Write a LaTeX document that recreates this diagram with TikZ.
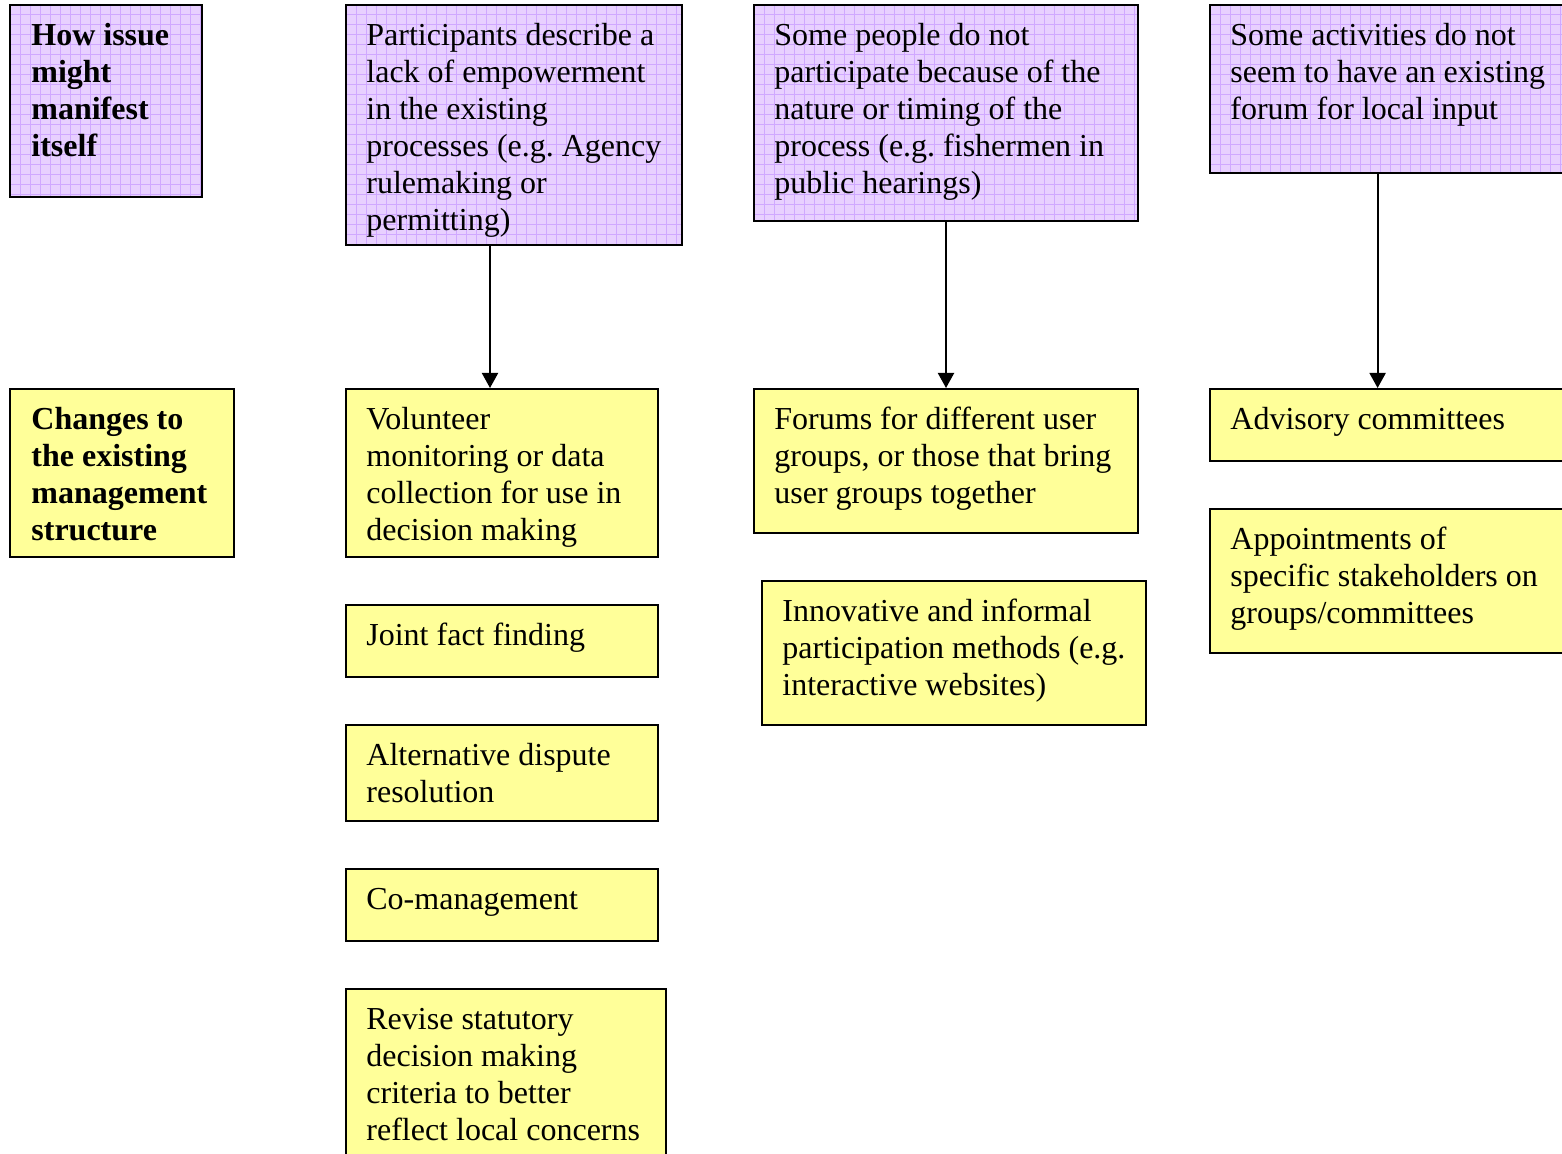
\documentclass[tikz,border=0pt]{standalone}
\usepackage{fontspec}
\setmainfont{Liberation Serif}
\usetikzlibrary{arrows.meta,fit}
\definecolor{boxyellow}{RGB}{255,255,153}
\definecolor{boxpurple}{RGB}{232,208,255}
\definecolor{gridpurple}{RGB}{208,168,255}
\frenchspacing
\newcommand\ybox[5]{%
  \node[ybox, fit={(#2,#3) (#4,#5)}] (#1) {};}
\newcommand\pbox[5]{%
  \node[pfill, fit={(#2,#3) (#4,#5)}] (#1) {};
  \begin{scope}
    \clip (#1.north west) rectangle (#1.south east);
    \foreach \k in {1,...,40}{\draw[gridl] ({#2+10*\k},#3) -- ({#2+10*\k},#5);}
    \foreach \k in {1,...,25}{\draw[gridl] (#2,{#3+10*\k}) -- (#4,{#3+10*\k});}
  \end{scope}
  \draw[line width=1pt] (#1.north west) rectangle (#1.south east);}
\begin{document}
\begin{tikzpicture}[x=0.5pt,y=-0.5pt,
  ybox/.style={draw=black, line width=1pt, fill=boxyellow, inner sep=0pt},
  pfill/.style={fill=boxpurple, inner sep=0pt},
  gridl/.style={draw=gridpurple, line width=0.5pt},
  txt/.style={anchor=north west, inner sep=0pt, align=left, font=\fontsize{16}{18.5}\selectfont\frenchspacing},
  btxt/.style={txt, font=\fontsize{16}{18.5}\selectfont\bfseries},
  arr/.style={line width=1pt, -{Triangle[width=8pt,length=7.5pt]}}]
\clip (0,0) rectangle (1562,1154);
\fill[white] (0,0) rectangle (1562,1154);

% purple issue boxes
\pbox{hdr}{10}{5}{202}{197}
\pbox{p1}{346}{5}{682}{245}
\pbox{p2}{754}{5}{1138}{221}
\pbox{p3}{1210}{5}{1580}{173}

% yellow boxes
\ybox{chg}{10}{389}{234}{557}
\ybox{y1}{346}{389}{658}{557}
\ybox{y2}{346}{605}{658}{677}
\ybox{y3}{346}{725}{658}{821}
\ybox{y4}{346}{869}{658}{941}
\ybox{y5}{346}{989}{666}{1170}
\ybox{f1}{754}{389}{1138}{533}
\ybox{f2}{762}{581}{1146}{725}
\ybox{a1}{1210}{389}{1580}{461}
\ybox{a2}{1210}{509}{1580}{653}

% texts
\node[btxt] (thdr) at (31,19) {\strut How issue\\might\\manifest\\itself};
\node[txt] (tp1) at (366,19) {\strut Participants describe a\\lack of empowerment\\in the existing\\processes (e.g. Agency\\rulemaking or\\permitting)};
\node[txt] (tp2) at (774,19) {\strut Some people do not\\participate because of the\\nature or timing of the\\process (e.g. fishermen in\\public hearings)};
\node[txt] (tp3) at (1230,19) {\strut Some activities do not\\seem to have an existing\\forum for local input};

\node[btxt] (tchg) at (31,403) {\strut Changes to\\the existing\\management\\structure};
\node[txt] (ty1) at (366,403) {\strut Volunteer\\monitoring or data\\collection for use in\\decision making};
\node[txt] (ty2) at (366,619) {\strut Joint fact finding};
\node[txt] (ty3) at (366,739) {\strut Alternative dispute\\resolution};
\node[txt] (ty4) at (366,883) {\strut Co-management};
\node[txt] (ty5) at (366,1003) {\strut Revise statutory\\decision making\\criteria to better\\reflect local concerns};
\node[txt] (tf1) at (774,403) {\strut Forums for different user\\groups, or those that bring\\user groups together};
\node[txt] (tf2) at (782,595) {\strut Innovative and informal\\participation methods (e.g.\\interactive websites)};
\node[txt] (ta1) at (1230,403) {\strut Advisory committees};
\node[txt] (ta2) at (1230,523) {\strut Appointments of\\specific stakeholders on\\groups/committees};

% arrows
\draw[arr] ([xshift=-12pt]p1.south) -- ([xshift=-12pt]p1.south |- y1.north);
\draw[arr] (p2.south) -- (f1.north);
\draw[arr] ([xshift=84pt]p3.south west) -- ([xshift=84pt]p3.south west |- a1.north);
\end{tikzpicture}
\end{document}
